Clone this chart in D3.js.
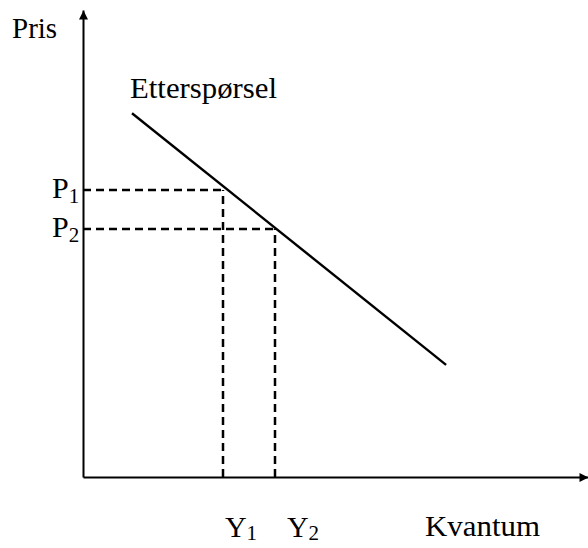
<!DOCTYPE html>
<html>
<head>
<meta charset="utf-8">
<script src="https://cdn.jsdelivr.net/npm/d3@7"></script>
<style>
  html, body { margin: 0; padding: 0; background: #fff; }
</style>
</head>
<body>
<div id="chart"></div>
<script>
// Demand curve endpoints (quantity, price) on a 0-100 scale
const demandQ = [9.7, 71.9];
const demandP = [77.9, 24.0];

// Marked points on the curve
const pointNames = ["1", "2"];
const pointQ = [27.7, 38.0];
const pointP = [61.5, 53.1];

const axisLabels = ["Pris", "Kvantum"];
const curveLabel = "Etterspørsel";

const width = 588, height = 548;
const serif = "Liberation Serif, Times New Roman, serif";
const qLabelShift = [2, 12]; // the Y labels are not centred on their lines

const x = d3.scaleLinear().domain([0, 100]).range([83, 588]);
const y = d3.scaleLinear().domain([0, 100]).range([477, 10]);

const svg = d3.select("#chart")
    .append("svg")
    .attr("width", width)
    .attr("height", height);

// Arrowhead
svg.append("defs").append("marker")
    .attr("id", "arrow")
    .attr("viewBox", "0 0 10 10")
    .attr("refX", 10)
    .attr("refY", 5)
    .attr("markerUnits", "userSpaceOnUse")
    .attr("markerWidth", 10)
    .attr("markerHeight", 9)
    .attr("orient", "auto")
    .append("path")
    .attr("d", "M0,0L10,5L0,10Z")
    .attr("fill", "#000");

// Axes (no ticks, just the arrowed lines)
const xAxis = svg.append("g")
    .attr("transform", `translate(0,${y(0)})`)
    .call(d3.axisBottom(x).tickValues([]).tickSizeOuter(0));
const yAxis = svg.append("g")
    .attr("transform", `translate(${x(0)},0)`)
    .call(d3.axisLeft(y).tickValues([]).tickSizeOuter(0));

[xAxis, yAxis].forEach(a => a.select(".domain")
    .attr("stroke", "#000")
    .attr("stroke-width", 2)
    .attr("marker-end", "url(#arrow)"));

// Dashed guide lines
pointQ.forEach((q, i) => {
    const px = Math.round(x(q)), py = Math.round(y(pointP[i]));
    svg.append("line")
        .attr("x1", x(0)).attr("x2", px)
        .attr("y1", py).attr("y2", py)
        .attr("stroke", "#000").attr("stroke-width", 2.5)
        .attr("stroke-dasharray", "8,5");
    svg.append("line")
        .attr("x1", px).attr("x2", px)
        .attr("y1", y(0)).attr("y2", py)
        .attr("stroke", "#000").attr("stroke-width", 2.5)
        .attr("stroke-dasharray", "8,5");
});

// Demand curve
svg.append("path")
    .datum(demandQ.map((q, i) => [q, demandP[i]]))
    .attr("d", d3.line().x(d => x(d[0])).y(d => y(d[1])))
    .attr("fill", "none")
    .attr("stroke", "#000")
    .attr("stroke-width", 2.4);

// Labels
svg.append("text")
    .attr("x", 12).attr("y", 38)
    .attr("font-family", serif)
    .attr("font-size", 29)
    .text(axisLabels[0]);

svg.append("text")
    .attr("x", 425).attr("y", 536)
    .attr("font-family", serif)
    .attr("font-size", 30)
    .attr("textLength", 115).attr("lengthAdjust", "spacingAndGlyphs")
    .text(axisLabels[1]);

svg.append("text")
    .attr("x", x(demandQ[0]) - 2).attr("y", 98)
    .attr("font-family", serif)
    .attr("font-size", 30)
    .attr("textLength", 147).attr("lengthAdjust", "spacingAndGlyphs")
    .text(curveLabel);

// Price labels P1, P2
pointP.forEach((p, i) => {
    const t = svg.append("text")
        .attr("x", 52).attr("y", Math.round(y(p)) + 8)
        .attr("font-family", serif)
        .attr("font-size", 30);
    t.append("tspan").text("P");
    t.append("tspan").attr("font-size", 21).attr("dy", 5).text(pointNames[i]);
});

// Quantity labels Y1, Y2
pointQ.forEach((q, i) => {
    const t = svg.append("text")
        .attr("x", x(q) + qLabelShift[i]).attr("y", 537)
        .attr("font-family", serif)
        .attr("font-size", 30);
    t.append("tspan").text("Y");
    t.append("tspan").attr("font-size", 21).attr("dy", 3).text(pointNames[i]);
});
</script>
</body>
</html>
